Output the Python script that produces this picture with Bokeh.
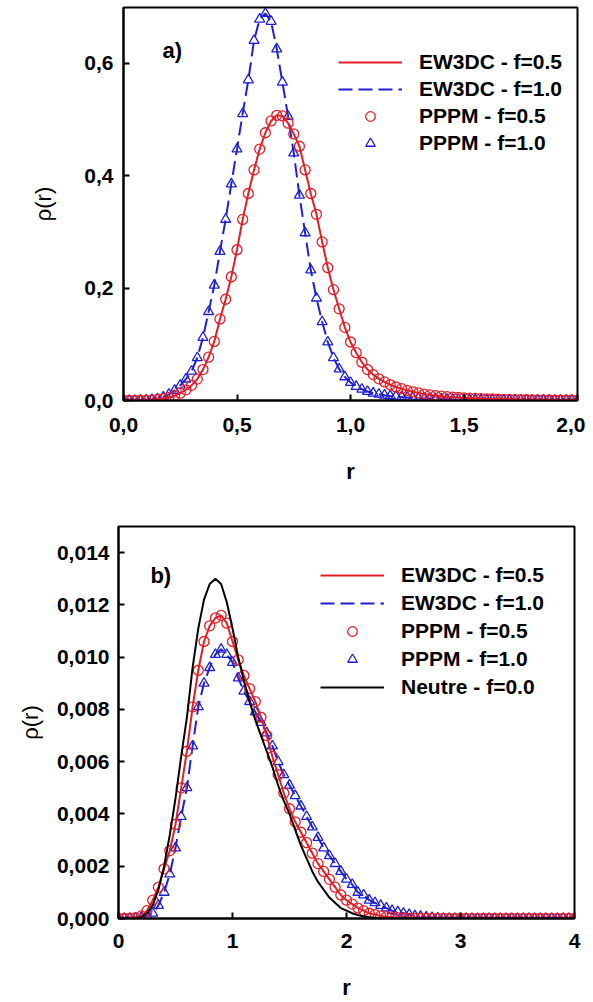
import numpy as np
from bokeh.plotting import figure
from bokeh.models import (Range1d, FixedTicker, CustomJSTickFormatter, Legend,
                          LegendItem, Label, Spacer)
from bokeh.layouts import column, row
from bokeh.embed import file_html
from bokeh.resources import INLINE

# ---------------- data : panel a) (r from 0 to 2, step 0.025) ----------------
r_a = np.round(np.linspace(0.0, 2.0, 81), 4)

rho_a_f05 = [
    0.0, 0.0, 0.0, 0.0, 0.0003,
    0.0008, 0.0018, 0.0033, 0.0055, 0.0085,
    0.013, 0.019, 0.027, 0.038, 0.055,
    0.077, 0.105, 0.145, 0.180, 0.220,
    0.268, 0.322, 0.368, 0.410, 0.447,
    0.476, 0.497, 0.507, 0.506, 0.493,
    0.474, 0.452, 0.410, 0.368, 0.331,
    0.282, 0.236, 0.197, 0.163, 0.130,
    0.104, 0.085, 0.068, 0.055, 0.046,
    0.0385, 0.033, 0.028, 0.024, 0.021,
    0.018, 0.0155, 0.0135, 0.0115, 0.010,
    0.0088, 0.0077, 0.0068, 0.006, 0.0053,
    0.0047, 0.0042, 0.0037, 0.0033, 0.003,
    0.0027, 0.0024, 0.0021, 0.0019, 0.0017,
    0.0015, 0.0013, 0.0012, 0.0011, 0.001,
    0.0009, 0.0008, 0.0007, 0.0006, 0.0006,
    0.0005,
]

rho_a_f10 = [
    0.0, 0.0, 0.0, 0.0002, 0.0006,
    0.0015, 0.003, 0.006, 0.011, 0.018,
    0.027, 0.038, 0.052, 0.076, 0.112,
    0.158, 0.205, 0.265, 0.322, 0.385,
    0.447, 0.510, 0.570, 0.640, 0.678,
    0.688, 0.674, 0.625, 0.566, 0.505,
    0.440, 0.365, 0.298, 0.232, 0.182,
    0.140, 0.104, 0.076, 0.056, 0.042,
    0.032, 0.025, 0.020, 0.016, 0.013,
    0.011, 0.0095, 0.0082, 0.0072, 0.0063,
    0.0055, 0.0048, 0.0042, 0.0037, 0.0032,
    0.0028, 0.0025, 0.0022, 0.0019, 0.0017,
    0.0015, 0.0013, 0.0012, 0.001, 0.0009,
    0.0008, 0.0007, 0.0006, 0.0005, 0.0005,
    0.0004, 0.0004, 0.0003, 0.0003, 0.0002,
    0.0002, 0.0002, 0.0002, 0.0001, 0.0001,
    0.0001,
]

# ---------------- data : panel b) (r from 0 to 4, step 0.05) ----------------
r_b = np.round(np.linspace(0.0, 4.0, 81), 4)

rho_b_f05 = [
    0.0, 0.0, 0.00001, 0.00003, 0.0001,
    0.0003, 0.0007, 0.0012, 0.0019, 0.0026,
    0.0036, 0.0050, 0.0064, 0.0081, 0.0095,
    0.0106, 0.0112, 0.0115, 0.0116, 0.0113,
    0.0106, 0.0099, 0.0093, 0.0088, 0.0083,
    0.0077, 0.0070, 0.0062, 0.0055, 0.0048,
    0.0042, 0.0037, 0.0033, 0.0029, 0.0025,
    0.0021, 0.0018, 0.0015, 0.0012, 0.0009,
    0.0007, 0.00055, 0.0004, 0.0003, 0.0002,
    0.00015, 0.0001, 0.00007, 0.00005, 0.00003,
    0.00002, 0.0, 0.0, 0.0, 0.0,
] + [0.0] * 26

rho_b_f10 = [
    0.0, 0.0, 0.0, 0.00001, 0.00003,
    0.0001, 0.0002, 0.0005, 0.0010, 0.0017,
    0.0027, 0.0039, 0.0050, 0.0066, 0.0081,
    0.0090, 0.0096, 0.0101, 0.0103, 0.0101,
    0.0098, 0.0092, 0.0087, 0.0083, 0.0079,
    0.0075, 0.0071, 0.0066, 0.0060, 0.0055,
    0.0051, 0.0047, 0.0043, 0.0039, 0.0035,
    0.0031, 0.0027, 0.0024, 0.0021, 0.0018,
    0.0015, 0.0013, 0.0010, 0.0009, 0.0007,
    0.0006, 0.0005, 0.0004, 0.0003, 0.00025,
    0.0002, 0.00015, 0.0001, 0.00008, 0.00005,
    0.00003, 0.00002, 0.0, 0.0, 0.0,
] + [0.0] * 21

rho_b_neutre = [
    0.0, 0.0, 0.0, 0.00001, 0.00005,
    0.0002, 0.0005, 0.0011, 0.0020, 0.0032,
    0.0046, 0.0062, 0.0077, 0.0096, 0.0111,
    0.0122, 0.0128, 0.0130, 0.0128, 0.0121,
    0.0111, 0.0100, 0.0091, 0.0083, 0.0076,
    0.0070, 0.0064, 0.0058, 0.0051, 0.0045,
    0.0040, 0.0034, 0.0028, 0.0023, 0.0018,
    0.0014, 0.0011, 0.0008, 0.0006, 0.0004,
    0.0003, 0.0002, 0.00013, 0.00008, 0.00005,
    0.00003, 0.00001, 0.0, 0.0, 0.0,
] + [0.0] * 31

ticks_a_x = [0.0, 0.5, 1.0, 1.5, 2.0]
ticks_a_y = [0.0, 0.2, 0.4, 0.6]
ticks_b_x = [0, 1, 2, 3, 4]
ticks_b_y = [0.0, 0.002, 0.004, 0.006, 0.008, 0.010, 0.012, 0.014]

labels_a = ["EW3DC - f=0.5", "EW3DC - f=1.0", "PPPM - f=0.5", "PPPM - f=1.0"]
labels_b = labels_a + ["Neutre - f=0.0"]

FONT = "Liberation Sans"
RED = "#e41e26"
BLUE = "#1f1fd2"
BLACK = "#000000"


def make_fig(width, height, mbl, mbr, mbt, mbb, xr, yr):
    p = figure(width=width, height=height,
               x_range=Range1d(*xr), y_range=Range1d(*yr),
               output_backend="svg", toolbar_location=None,
               min_border_left=mbl, min_border_right=mbr,
               min_border_top=mbt, min_border_bottom=mbb)
    p.outline_line_color = "black"
    p.outline_line_width = 2
    p.xgrid.visible = False
    p.ygrid.visible = False
    p.background_fill_color = "white"
    p.border_fill_color = "white"
    for ax in (p.xaxis[0], p.yaxis[0]):
        ax.axis_line_width = 2
        ax.axis_line_color = "black"
        ax.major_tick_line_width = 2
        ax.major_tick_line_color = "black"
        ax.major_tick_in = 6
        ax.major_tick_out = 0
        ax.minor_tick_line_color = None
        ax.major_label_text_font = FONT
        ax.major_label_text_font_style = "bold"
        ax.major_label_text_font_size = "21px"
        ax.major_label_text_color = "black"
        ax.axis_label_text_font = FONT
        ax.axis_label_text_font_size = "22px"
        ax.axis_label_text_color = "black"
    p.xaxis[0].axis_label = "r"
    p.xaxis[0].axis_label_text_font_style = "bold"
    p.yaxis[0].axis_label = "ρ(r)"
    p.yaxis[0].axis_label_text_font_style = "normal"
    return p


def make_legend(items, loc, spacing):
    return Legend(items=items, location=loc, padding=0, margin=0,
                  spacing=spacing, glyph_width=64, glyph_height=24,
                  label_height=24, label_standoff=17,
                  label_text_font=FONT, label_text_font_style="bold",
                  label_text_font_size="21px", label_text_color="black",
                  border_line_color=None, background_fill_alpha=0)


# ---------------- panel a ----------------
pa = make_fig(580, 500, 118, 8, 7, 100, (0.0, 2.0), (0.0, 0.6987))
pa.xaxis[0].ticker = FixedTicker(ticks=ticks_a_x)
pa.yaxis[0].ticker = FixedTicker(ticks=ticks_a_y)
pa.xaxis[0].formatter = CustomJSTickFormatter(code="return tick.toFixed(1).replace('.', ',');")
pa.yaxis[0].formatter = CustomJSTickFormatter(code="return tick.toFixed(1).replace('.', ',');")
pa.xaxis[0].major_label_standoff = 17
pa.yaxis[0].major_label_standoff = 10
pa.xaxis[0].axis_label_standoff = 24
pa.yaxis[0].axis_label_standoff = 25

la2 = pa.line(r_a, rho_a_f10, line_color=BLUE, line_width=2, line_dash="14 6")
ma2 = pa.scatter(r_a, rho_a_f10, marker="triangle", size=10, line_color=BLUE,
                 line_width=1.3, fill_color=None)
la1 = pa.line(r_a, rho_a_f05, line_color=RED, line_width=2)
ma1 = pa.scatter(r_a, rho_a_f05, marker="circle", size=10, line_color=RED,
                 line_width=1.3, fill_color=None)

pa.add_layout(make_legend([
    LegendItem(label=labels_a[0], renderers=[la1]),
    LegendItem(label=labels_a[1], renderers=[la2]),
    LegendItem(label=labels_a[2], renderers=[ma1]),
    LegendItem(label=labels_a[3], renderers=[ma2]),
], (215, 245), 3))

pa.add_layout(Label(x=0.172, y=0.622, text="a)", text_font=FONT,
                    text_font_style="bold", text_font_size="22px",
                    text_baseline="alphabetic", text_color="black"))

# ---------------- panel b ----------------
pb = make_fig(585, 502, 118, 11, 26, 83, (0.0, 4.0), (0.0, 0.0150))
pb.xaxis[0].ticker = FixedTicker(ticks=ticks_b_x)
pb.yaxis[0].ticker = FixedTicker(ticks=ticks_b_y)
pb.xaxis[0].formatter = CustomJSTickFormatter(code="return tick.toFixed(0);")
pb.yaxis[0].formatter = CustomJSTickFormatter(code="return tick.toFixed(3).replace('.', ',');")
pb.xaxis[0].major_label_standoff = 15
pb.yaxis[0].major_label_standoff = 9
pb.xaxis[0].axis_label_standoff = 24
pb.yaxis[0].axis_label_standoff = 11

lb2 = pb.line(r_b, rho_b_f10, line_color=BLUE, line_width=2, line_dash="14 6")
mb2 = pb.scatter(r_b, rho_b_f10, marker="triangle", size=10, line_color=BLUE,
                 line_width=1.3, fill_color=None)
lb1 = pb.line(r_b, rho_b_f05, line_color=RED, line_width=2)
mb1 = pb.scatter(r_b, rho_b_f05, marker="circle", size=10, line_color=RED,
                 line_width=1.3, fill_color=None)
lb0 = pb.line(r_b, rho_b_neutre, line_color=BLACK, line_width=2)

pb.add_layout(make_legend([
    LegendItem(label=labels_b[0], renderers=[lb1]),
    LegendItem(label=labels_b[1], renderers=[lb2]),
    LegendItem(label=labels_b[2], renderers=[mb1]),
    LegendItem(label=labels_b[3], renderers=[mb2]),
    LegendItem(label=labels_b[4], renderers=[lb0]),
], (202, 219), 4))

pb.add_layout(Label(x=0.28, y=0.01313, text="b)", text_font=FONT,
                    text_font_style="bold", text_font_size="22px",
                    text_baseline="alphabetic", text_color="black"))

top = row(Spacer(width=5, height=500), pa, spacing=0)
layout = column(top, pb, spacing=0)
open("out.html", "w").write(file_html(layout, INLINE))
